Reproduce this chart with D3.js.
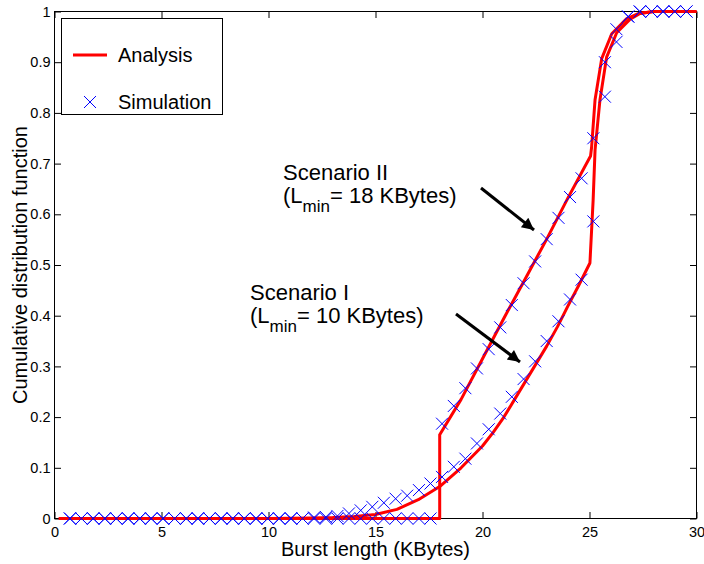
<!DOCTYPE html>
<html>
<head>
<meta charset="utf-8">
<script src="https://cdn.jsdelivr.net/npm/d3@7"></script>
<style>
  body { margin: 0; background: #fff; }
  text { font-family: "Liberation Sans", Arial, Helvetica, sans-serif; }
</style>
</head>
<body>
<svg id="chart" width="704" height="564"></svg>
<script>
// simulation sample points (shared x positions)
var simX = [0.72, 1.26, 1.81, 2.35, 2.89, 3.44, 3.98, 4.52, 5.07, 5.61, 6.16, 6.70,
  7.24, 7.79, 8.33, 8.87, 9.42, 9.96, 10.50, 11.05, 11.59, 12.13, 12.68, 13.22,
  13.76, 14.31, 14.85, 15.39, 15.94, 16.48, 17.03, 17.57, 18.11, 18.66, 19.20,
  19.74, 20.29, 20.83, 21.37, 21.92, 22.46, 23.00, 23.55, 24.09, 24.63, 25.18,
  25.72, 26.26, 26.81, 27.35, 27.90, 28.44, 28.98, 29.53];
var simScenario1 = [0, 0, 0, 0, 0, 0, 0, 0, 0, 0, 0, 0, 0, 0, 0, 0, 0, 0, 0, 0, 0,
  0.002, 0.003, 0.005, 0.010, 0.016, 0.023, 0.031, 0.039, 0.045, 0.056, 0.069,
  0.082, 0.102, 0.118, 0.148, 0.176, 0.207, 0.240, 0.275, 0.310, 0.350, 0.389,
  0.432, 0.471, 0.586, 0.832, 0.940, 0.990, 1, 1, 1, 1, 1];
var simScenario2 = [0, 0, 0, 0, 0, 0, 0, 0, 0, 0, 0, 0, 0, 0, 0, 0, 0, 0, 0, 0, 0,
  0, 0, 0, 0, 0, 0, 0, 0, 0, 0, 0,
  0.187, 0.222, 0.257, 0.296, 0.334, 0.377, 0.421, 0.464, 0.507, 0.551, 0.593,
  0.634, 0.671, 0.750, 0.900, 0.965, 0.990, 1, 1, 1, 1, 1];

// analysis curves
var anaX1 = [0.2, 10, 11, 12, 13, 14, 15, 16, 17, 18, 19, 20, 20.5, 21, 21.5, 22,
  22.5, 23, 23.5, 24, 24.5, 25.02, 25.17, 25.26, 25.49, 25.8, 26.27, 26.9, 27.36, 28, 30];
var anaY1 = [0, 0, 0.0005, 0.001, 0.002, 0.004, 0.008, 0.018, 0.037, 0.063, 0.1,
  0.143, 0.17, 0.2, 0.235, 0.27, 0.305, 0.34, 0.378, 0.42, 0.46, 0.504, 0.628,
  0.727, 0.826, 0.91, 0.958, 0.985, 0.996, 1, 1];
var anaX2 = [0.2, 18, 18, 19, 20, 21, 22, 23, 24, 25.05, 25.1, 25.26, 25.57, 26.04,
  26.74, 27.28, 28, 30];
var anaY2 = [0, 0, 0.165, 0.235, 0.315, 0.395, 0.473, 0.551, 0.633, 0.715, 0.733,
  0.826, 0.907, 0.956, 0.986, 0.996, 1, 1];

var xTicks = [0, 5, 10, 15, 20, 25, 30];
var yTicks = [0, 0.1, 0.2, 0.3, 0.4, 0.5, 0.6, 0.7, 0.8, 0.9, 1];

var plotLeft = 54.5, plotRight = 696.5, plotTop = 11.5, plotBottom = 518.5;
var tickLen = 6.5;

var svg = d3.select("#chart");

var xScale = d3.scaleLinear().domain([0, 30]).range([plotLeft, plotRight]);
var yScale = d3.scaleLinear().domain([0, 1]).range([plotBottom, plotTop]);

function zip(xs, ys) {
  return xs.map(function (x, i) { return [x, ys[i]]; });
}

var line = d3.line()
  .x(function (d) { return xScale(d[0]); })
  .y(function (d) { return yScale(d[1]); });

function styleAxis(g) {
  g.select(".domain").remove();
  g.selectAll("line").attr("stroke", "#000");
  g.selectAll("text")
    .attr("fill", "#000")
    .style("font-size", "14.5px")
    .style("font-family", "'Liberation Sans', Arial, sans-serif");
}

// axes: bottom/left with labels, top/right tick marks only (boxed plot)
svg.append("g")
  .attr("transform", "translate(0," + plotBottom + ")")
  .call(d3.axisBottom(xScale).tickValues(xTicks).tickSizeInner(-tickLen).tickSizeOuter(0).tickPadding(8)
    .tickFormat(d3.format("d")))
  .call(styleAxis);

svg.append("g")
  .attr("transform", "translate(" + plotLeft + ",0)")
  .call(d3.axisLeft(yScale).tickValues(yTicks).tickSizeInner(-tickLen).tickSizeOuter(0).tickPadding(4)
    .tickFormat(function (d) { return d === 0 || d === 1 ? String(d) : d3.format(".1f")(d); }))
  .call(styleAxis);

svg.append("g")
  .attr("transform", "translate(0," + plotTop + ")")
  .call(d3.axisTop(xScale).tickValues(xTicks).tickSizeInner(-tickLen).tickSizeOuter(0).tickFormat(""))
  .call(styleAxis);

svg.append("g")
  .attr("transform", "translate(" + plotRight + ",0)")
  .call(d3.axisRight(yScale).tickValues(yTicks).tickSizeInner(-tickLen).tickSizeOuter(0).tickFormat(""))
  .call(styleAxis);

svg.append("rect")
  .attr("x", plotLeft)
  .attr("y", plotTop)
  .attr("width", plotRight - plotLeft)
  .attr("height", plotBottom - plotTop)
  .attr("fill", "none")
  .attr("stroke", "#000")
  .attr("stroke-width", 1);

// analysis lines
[zip(anaX1, anaY1), zip(anaX2, anaY2)].forEach(function (pts) {
  svg.append("path")
    .datum(pts)
    .attr("d", line)
    .attr("fill", "none")
    .attr("stroke", "#ff0000")
    .attr("stroke-width", 3)
    .attr("stroke-linejoin", "round");
});

// simulation markers
var m = 6;
function cross(sel) {
  sel.attr("d", function (d) {
    var cx = xScale(d[0]), cy = yScale(d[1]);
    return "M" + (cx - m) + "," + (cy - m) + "L" + (cx + m) + "," + (cy + m) +
      "M" + (cx - m) + "," + (cy + m) + "L" + (cx + m) + "," + (cy - m);
  })
    .attr("stroke", "#0000ff")
    .attr("stroke-width", 1)
    .attr("fill", "none");
}

svg.append("g").selectAll("path")
  .data(zip(simX, simScenario1).concat(zip(simX, simScenario2)))
  .enter()
  .append("path")
  .call(cross);

// arrows
svg.append("defs").append("marker")
  .attr("id", "head")
  .attr("viewBox", "0 0 10 10")
  .attr("refX", 10)
  .attr("refY", 5)
  .attr("markerUnits", "userSpaceOnUse")
  .attr("markerWidth", 16)
  .attr("markerHeight", 12)
  .attr("orient", "auto")
  .append("path")
  .attr("d", "M0,0L10,5L0,10Z")
  .attr("fill", "#000");

svg.append("line")
  .attr("x1", 481).attr("y1", 188).attr("x2", 534).attr("y2", 230)
  .attr("stroke", "#000").attr("stroke-width", 3).attr("marker-end", "url(#head)");
svg.append("line")
  .attr("x1", 456).attr("y1", 314).attr("x2", 520).attr("y2", 362)
  .attr("stroke", "#000").attr("stroke-width", 3).attr("marker-end", "url(#head)");

// annotations
function annotate(x, y, title, value) {
  svg.append("text")
    .attr("x", x).attr("y", y)
    .style("font-size", "22px")
    .text(title);
  var t = svg.append("text")
    .attr("x", x).attr("y", y + 23)
    .style("font-size", "22px");
  t.append("tspan").text("(L");
  t.append("tspan").attr("dy", 9).style("font-size", "17px").text("min");
  t.append("tspan").attr("dy", -9).text("= " + value + " KBytes)");
}
annotate(283, 180, "Scenario II", 18);
annotate(250, 300, "Scenario I", 10);

// legend
svg.append("rect")
  .attr("x", 61.5).attr("y", 18.5)
  .attr("width", 161).attr("height", 96)
  .attr("fill", "#fff")
  .attr("stroke", "#000")
  .attr("stroke-width", 1);
svg.append("line")
  .attr("x1", 73).attr("y1", 55).attr("x2", 107).attr("y2", 55)
  .attr("stroke", "#ff0000").attr("stroke-width", 3);
svg.append("path")
  .attr("d", "M84,96L96,108M84,108L96,96")
  .attr("stroke", "#0000ff").attr("stroke-width", 1);
svg.append("text")
  .attr("x", 118).attr("y", 62)
  .style("font-size", "20px")
  .text("Analysis");
svg.append("text")
  .attr("x", 118).attr("y", 109)
  .style("font-size", "20px")
  .text("Simulation");

// axis titles
svg.append("text")
  .attr("x", (plotLeft + plotRight) / 2)
  .attr("y", 556)
  .attr("text-anchor", "middle")
  .style("font-size", "20px")
  .text("Burst length (KBytes)");
svg.append("text")
  .attr("transform", "translate(27," + (plotTop + plotBottom) / 2 + ")rotate(-90)")
  .attr("text-anchor", "middle")
  .style("font-size", "20px")
  .text("Cumulative distribution function");
</script>
</body>
</html>
